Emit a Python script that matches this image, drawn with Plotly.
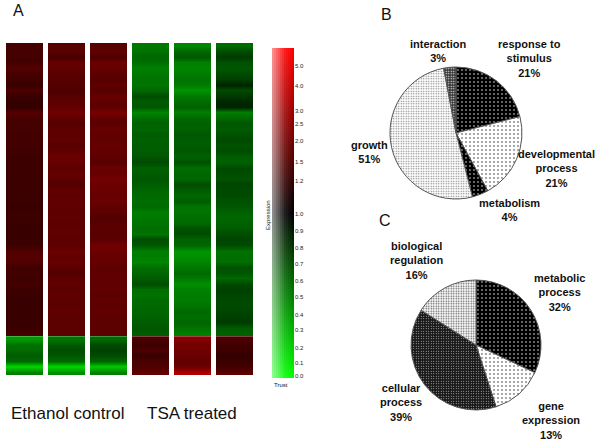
import plotly.graph_objects as go

W, H = 600, 445

# Heatmap values: -1 green, 0 black, +1 red; one list per sample, top to bottom
ethanol_1 = [.28,.27,.27,.26,.33,.28,.26,.22,.30,.22,.21,.20,.33,.28,.27,.27,.26,.27,.26,.25,
             .24,.24,.23,.24,.24,.23,.23,.23,.23,.22,.23,.23,.23,.22,.22,.23,.23,.32,.33,.32,
             .25,.26,.24,.27,.24,.23,.22,.22,.23,.22,.22,.23,.27,
             -.60,-.45,-.42,-.36,-.42,-.85,-.50]
ethanol_2 = [.34,.36,.28,.40,.38,.36,.34,.34,.30,.34,.36,.38,.44,.38,.33,.38,.36,.38,.34,.38,
             .42,.40,.36,.40,.36,.33,.38,.37,.38,.38,.36,.38,.36,.38,.38,.37,.36,.42,.38,.40,
             .36,.32,.36,.38,.36,.38,.36,.36,.38,.36,.36,.36,.36,
             -.45,-.36,-.30,-.34,-.42,-.85,-.55]
ethanol_3 = [.34,.38,.30,.42,.40,.36,.34,.38,.34,.40,.38,.36,.48,.38,.36,.40,.38,.38,.40,.38,
             .38,.34,.42,.40,.46,.42,.42,.40,.42,.38,.36,.32,.34,.36,.34,.36,.44,.42,.40,.40,
             .36,.38,.38,.38,.38,.36,.38,.36,.38,.36,.36,.36,.37,
             -.42,-.30,-.26,-.30,-.40,-.80,-.50]
tsa_1 = [-.47,-.45,-.40,-.43,-.50,-.47,-.45,-.45,-.41,-.30,-.36,-.34,-.52,-.43,-.38,-.40,-.36,-.38,-.36,-.36,
         -.34,-.29,-.38,-.36,-.34,-.36,-.40,-.41,-.43,-.41,-.49,-.47,-.45,-.43,-.45,-.30,-.34,-.50,-.49,-.52,
         -.43,-.40,-.36,-.30,-.43,-.45,-.41,-.41,-.40,-.38,-.36,-.34,-.36,
         .30,.24,.30,.22,.30,.30,.38]
tsa_2 = [-.52,-.41,-.34,-.50,-.52,-.49,-.45,-.49,-.58,-.47,-.43,-.38,-.50,-.41,-.38,-.38,-.34,-.36,-.36,-.34,
         -.38,-.32,-.43,-.40,-.40,-.30,-.36,-.40,-.36,-.45,-.45,-.43,-.41,-.32,-.30,-.38,-.40,-.58,-.56,-.52,
         -.47,-.41,-.47,-.56,-.50,-.49,-.49,-.45,-.41,-.43,-.40,-.45,-.50,
         .52,.45,.44,.42,.38,.42,.68]
tsa_3 = [-.41,-.30,-.23,-.32,-.34,-.30,-.25,-.14,-.29,-.22,-.16,-.14,-.49,-.41,-.34,-.36,-.32,-.29,-.32,-.30,
         -.36,-.38,-.29,-.30,-.32,-.27,-.29,-.29,-.32,-.34,-.38,-.40,-.38,-.36,-.30,-.27,-.29,-.45,-.43,-.43,
         -.32,-.34,-.41,-.29,-.25,-.27,-.29,-.29,-.27,-.25,-.23,-.36,-.38,
         .30,.26,.24,.20,.24,.26,.36]
sample_values = [ethanol_1, ethanol_2, ethanol_3, tsa_1, tsa_2, tsa_3]
row_ids = list(range(60))
upper_rows = 53  # rows above the sharp cluster split

# Expression scale bar
scale_levels = [-1, -.75, -.5, -.25, 0, .25, .5, .75, 1]
scale_tick_pos = [.89, .77, .62, .54, .44, .31, .195, -.005, -.11, -.21, -.31, -.41, -.51, -.62, -.71, -.82, -.91, -.99]
scale_tick_labels = ["5.0", "4.0", "3.0", "2.5", "2.0", "1.5", "1.2", "1.0", "0.9", "0.8",
                     "0.7", "0.6", "0.5", "0.4", "0.3", "0.2", "0.1", "0.0"]
sheen_cols = [0, 1, 2, 3, 4, 5, 6, 7, 8, 9, 10]

# Pie charts
pie_b_labels = ["response to<br>stimulus", "developmental<br>process", "metabolism", "growth", "interaction"]
pie_b_values = [21, 21, 4, 51, 3]
pie_c_labels = ["metabolic<br>process", "gene<br>expression", "cellular<br>process", "biological<br>regulation"]
pie_c_values = [32, 13, 39, 16]


def px(x):
    return x / W


def py(y):
    return 1 - y / H


def pie_domain(cx, cy, r):
    return dict(x=[px(cx - r), px(cx + r)], y=[py(cy + r), py(cy - r)])


RG = [[0, "#00ff00"], [.5, "#000000"], [1, "#ff0000"]]
fig = go.Figure()

half = 37 / 42 / 4  # two centres spaced 2*half give a cell block 4*half wide
for i, vals in enumerate(sample_values):
    for seg_rows, seg_vals in ((row_ids[:upper_rows], vals[:upper_rows]), (row_ids[upper_rows:], vals[upper_rows:])):
        fig.add_trace(go.Heatmap(z=[[v, v] for v in seg_vals], x=[i - half, i + half], y=seg_rows,
                                 zmin=-1, zmax=1, colorscale=RG, showscale=False, zsmooth="best",
                                 xaxis="x", yaxis="y", hoverinfo="skip"))
fig.add_trace(go.Heatmap(z=[[v, v] for v in scale_levels], x=[0, 1], y=scale_levels, zmin=-1, zmax=1,
                         colorscale=RG, showscale=False, zsmooth="best", xaxis="x2", yaxis="y2", hoverinfo="skip"))
fig.add_trace(go.Heatmap(z=[sheen_cols, sheen_cols], x=sheen_cols, y=[-1, 1], showscale=False,
                         colorscale=[[0, "rgba(255,255,255,0.55)"], [.6, "rgba(255,255,255,0.12)"], [1, "rgba(255,255,255,0)"]],
                         xaxis="x3", yaxis="y3", hoverinfo="skip"))


def pie(values, labels, dom, patterns):
    return go.Pie(values=values, labels=labels, domain=dom, sort=False, direction="clockwise", rotation=0,
                  textinfo="none", showlegend=False, hoverinfo="label+percent",
                  marker=dict(colors=[p[1] for p in patterns], line=dict(color="#555555", width=1),
                              pattern=dict(shape=["."] * len(patterns),
                                           fgcolor=[p[0] for p in patterns],
                                           bgcolor=[p[1] for p in patterns],
                                           size=[p[2] for p in patterns],
                                           solidity=[p[3] for p in patterns])))


fig.add_trace(pie(pie_b_values, pie_b_labels, pie_domain(456, 133, 66),
                  [("#ffffff", "#000000", 4, .1), ("#000000", "#ffffff", 4, .08), ("#ffffff", "#000000", 4, .1),
                   ("#777777", "#ffffff", 2.5, .25), ("#ffffff", "#333333", 2.5, .25)]))
fig.add_trace(pie(pie_c_values, pie_c_labels, pie_domain(476, 345, 65),
                  [("#ffffff", "#000000", 4, .1), ("#000000", "#ffffff", 4, .08),
                   ("#ffffff", "#1a1a1a", 2.5, .12), ("#555555", "#ffffff", 2.5, .3)]))

ann = []


def text(x, y, s, size, bold=False, color="#111111", angle=0):
    ann.append(dict(x=px(x), y=py(y), xref="paper", yref="paper", text=f"<b>{s}</b>" if bold else s,
                    showarrow=False, xanchor="center", yanchor="middle", textangle=angle, align="center",
                    font=dict(family="Liberation Sans", size=size, color=color)))


text(18, 10, "A", 16)
text(386, 15, "B", 16)
text(385, 220, "C", 16)
text(67, 413, "Ethanol control", 17)
text(192, 413, "TSA treated", 17)
text(268, 215, "Expression", 6, angle=-90)
text(281, 385, "Trust", 6)
for lab, val, x, y in zip(pie_b_labels, pie_b_values, [529, 556, 509, 369, 438], [58, 168, 210, 152, 51]):
    text(x, y, f"{lab}<br>{val}%", 11, bold=True)
for lab, val, x, y in zip(pie_c_labels, pie_c_values, [559, 551, 401, 417], [292, 420, 402, 260]):
    text(x, y, f"{lab}<br>{val}%", 11, bold=True)

fig.update_layout(
    width=W, height=H, autosize=False, margin=dict(l=0, r=0, t=0, b=0),
    paper_bgcolor="white", plot_bgcolor="rgba(0,0,0,0)", annotations=ann,
    xaxis=dict(domain=[px(3.5), px(255.5)], range=[-.5, 5.5], visible=False, anchor="y"),
    yaxis=dict(domain=[py(375), py(43)], range=[59.5, -.5], visible=False, anchor="x"),
    xaxis2=dict(domain=[px(272), px(294)], range=[0, 1], visible=False, anchor="y2"),
    yaxis2=dict(domain=[py(378), py(48)], range=[-1, 1], side="right", anchor="x2",
                tickmode="array", tickvals=scale_tick_pos, ticktext=scale_tick_labels,
                tickfont=dict(family="Liberation Sans", size=6, color="#222222"),
                showgrid=False, zeroline=False, showline=False, ticks=""),
    xaxis3=dict(domain=[px(272), px(294)], visible=False, range=[-.5, 10.5], anchor="y3"),
    yaxis3=dict(domain=[py(378), py(48)], range=[-1, 1], visible=False, anchor="x3"),
)
fig.write_html("out.html", config={"displayModeBar": False},
               post_script="document.body.style.margin='0';document.documentElement.style.overflow='hidden';")
